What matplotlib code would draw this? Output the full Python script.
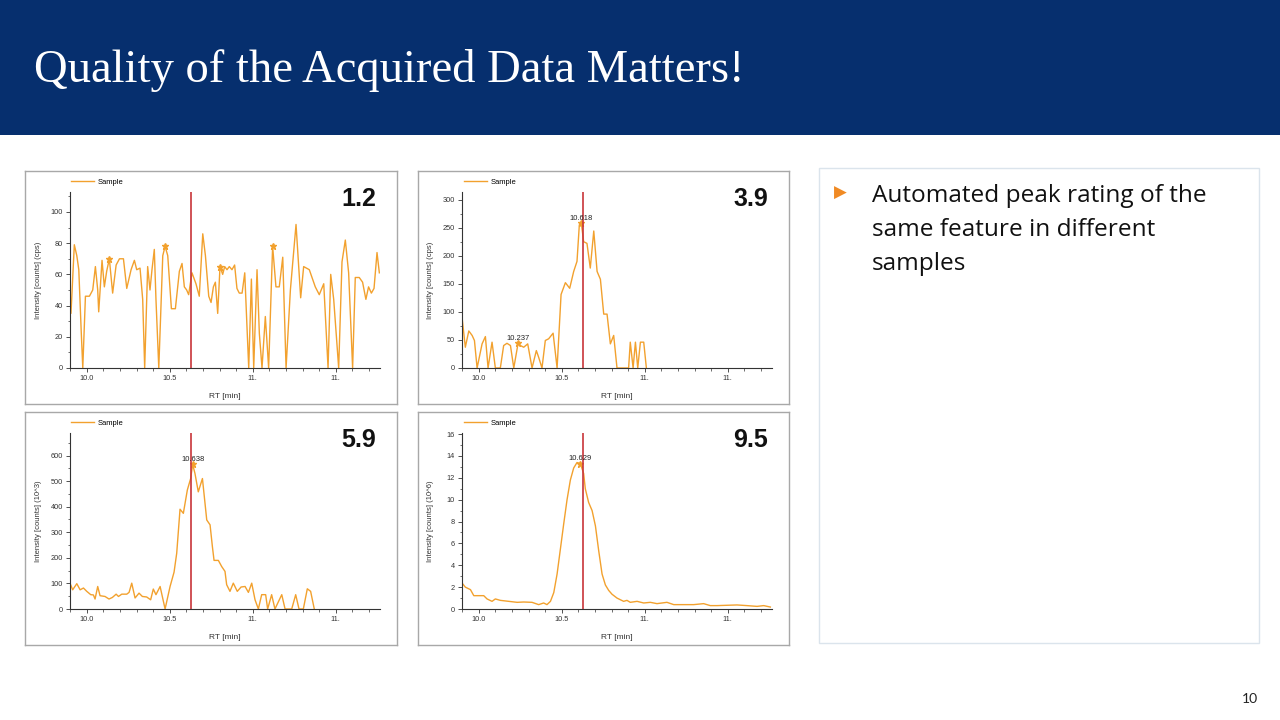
import matplotlib
matplotlib.use("Agg")
import matplotlib.pyplot as plt
from matplotlib.patches import Rectangle
from matplotlib.ticker import MultipleLocator

plt.rcParams['font.family'] = ['Liberation Sans', 'DejaVu Sans']

W, H = 1280, 720

rt1 = [9.895, 9.905, 9.925, 9.940, 9.952, 9.966, 9.976, 9.992, 10.016, 10.036, 10.052, 10.066, 10.072,
       10.092, 10.106, 10.120, 10.136, 10.156, 10.177, 10.197, 10.221, 10.241, 10.267, 10.287, 10.301,
       10.321, 10.337, 10.349, 10.367, 10.381, 10.393, 10.407, 10.417, 10.434, 10.458, 10.472, 10.488,
       10.510, 10.534, 10.558, 10.574, 10.588, 10.602, 10.614, 10.634, 10.658, 10.678, 10.699, 10.715,
       10.735, 10.749, 10.763, 10.775, 10.789, 10.803, 10.819, 10.831, 10.845, 10.859, 10.875, 10.891,
       10.905, 10.919, 10.936, 10.952, 10.966, 10.976, 10.992, 11.006, 11.026, 11.040, 11.056, 11.076,
       11.096, 11.120, 11.140, 11.160, 11.181, 11.201, 11.227, 11.261, 11.289, 11.307, 11.341, 11.377,
       11.401, 11.428, 11.454, 11.470, 11.488, 11.518, 11.538, 11.558, 11.578, 11.602, 11.618, 11.642,
       11.662, 11.682, 11.698, 11.715, 11.731, 11.749, 11.763]
int1 = [44, 35, 79, 72, 63, 25, 0, 46, 46, 50, 65, 50, 36,
        69, 52, 62, 70, 48, 66, 70, 70, 51, 63, 69, 63,
        64, 44, 0, 65, 50, 63, 76, 44, 0, 72, 78, 72,
        38, 38, 62, 67, 52, 50, 47, 61, 54, 46, 86, 72,
        46, 42, 52, 55, 35, 65, 60, 65, 63, 65, 63, 66,
        51, 48, 48, 61, 25, 0, 57, 0, 63, 22, 0, 33,
        0, 78, 52, 52, 71, 0, 50, 92, 45, 65, 63, 52,
        47, 54, 0, 60, 44, 0, 68, 82, 61, 0, 58, 58,
        55, 44, 52, 48, 51, 74, 61]
picos1_rt = [10.136, 10.472, 10.803, 11.120]
picos1_int = [70, 78, 65, 78]

rt2 = [9.899, 9.919, 9.940, 9.960, 9.974, 9.990, 10.020, 10.040, 10.056, 10.080, 10.100, 10.130,
       10.150, 10.170, 10.191, 10.211, 10.237, 10.251, 10.271, 10.295, 10.321, 10.347, 10.361, 10.381,
       10.401, 10.421, 10.448, 10.472, 10.496, 10.522, 10.548, 10.572, 10.592, 10.606, 10.618, 10.632,
       10.652, 10.672, 10.693, 10.713, 10.733, 10.753, 10.773, 10.793, 10.813, 10.833, 10.863, 10.903,
       10.913, 10.930, 10.944, 10.958, 10.974, 10.994, 11.010]
int2 = [91, 37, 66, 58, 49, 0, 43, 56, 0, 46, 0, 0,
        40, 44, 40, 0, 44, 40, 37, 43, 0, 31, 19, 0,
        49, 52, 62, 0, 131, 152, 142, 172, 190, 255, 258, 225,
        222, 178, 244, 172, 158, 96, 96, 43, 58, 0, 0, 0,
        46, 0, 46, 0, 46, 46, 0]
picos2_rt = [10.237, 10.618]
picos2_int = [44, 258]
picos2_txt = ['10.237', '10.618']

rt3 = [9.899, 9.915, 9.940, 9.960, 9.980, 10.000, 10.024, 10.040, 10.050, 10.066, 10.080, 10.110,
       10.134, 10.154, 10.177, 10.191, 10.211, 10.241, 10.255, 10.271, 10.291, 10.315, 10.335, 10.361,
       10.385, 10.401, 10.417, 10.442, 10.472, 10.502, 10.526, 10.542, 10.562, 10.582, 10.606, 10.626,
       10.638, 10.652, 10.672, 10.697, 10.723, 10.743, 10.757, 10.767, 10.793, 10.813, 10.833, 10.843,
       10.863, 10.883, 10.907, 10.930, 10.954, 10.974, 10.994, 11.014, 11.034, 11.054, 11.078, 11.090,
       11.114, 11.134, 11.175, 11.195, 11.235, 11.259, 11.279, 11.305, 11.329, 11.349, 11.371]
int3 = [101, 75, 99, 75, 82, 69, 56, 55, 39, 88, 52, 49,
        39, 45, 58, 49, 58, 58, 65, 101, 43, 62, 49, 47,
        36, 78, 56, 88, 0, 88, 144, 218, 390, 374, 465, 510,
        565, 530, 458, 510, 348, 329, 244, 190, 190, 166, 147, 95,
        69, 101, 69, 86, 88, 65, 101, 36, 0, 56, 56, 0,
        56, 0, 56, 0, 0, 56, 0, 0, 79, 69, 0]
picos3_rt = [10.638]
picos3_int = [565]
picos3_txt = ['10.638']

rt4 = [9.899, 9.919, 9.950, 9.970, 10.000, 10.030, 10.050, 10.080, 10.100, 10.130, 10.181, 10.231,
       10.271, 10.321, 10.361, 10.391, 10.411, 10.432, 10.452, 10.472, 10.492, 10.512, 10.532, 10.552,
       10.572, 10.592, 10.612, 10.632, 10.642, 10.662, 10.683, 10.703, 10.723, 10.743, 10.763, 10.783,
       10.803, 10.833, 10.873, 10.893, 10.913, 10.954, 10.994, 11.034, 11.074, 11.134, 11.175, 11.235,
       11.295, 11.355, 11.395, 11.436, 11.496, 11.556, 11.616, 11.677, 11.717, 11.757]
int4 = [2.38, 2.0, 1.77, 1.22, 1.22, 1.22, 0.92, 0.70, 0.92, 0.79, 0.70, 0.61,
        0.64, 0.61, 0.40, 0.55, 0.40, 0.70, 1.5, 3.2, 5.5, 7.8, 10.0, 11.8,
        12.9, 13.4, 13.3, 12.4, 11.0, 9.75, 9.0, 7.6, 5.3, 3.2, 2.2, 1.7,
        1.35, 1.0, 0.70, 0.79, 0.61, 0.70, 0.55, 0.61, 0.49, 0.61, 0.40, 0.40,
        0.40, 0.49, 0.31, 0.31, 0.34, 0.37, 0.31, 0.24, 0.31, 0.18]
picos4_rt = [10.612]
picos4_int = [13.3]
picos4_txt = ['10.629']

notas = ['1.2', '3.9', '5.9', '9.5']
rotulos_y = ['Intensity [counts] (cps)', 'Intensity [counts] (cps)',
             'Intensity [counts] (10^3)', 'Intensity [counts] (10^6)']
ticks_x = [10.0, 10.5, 11.0, 11.5]
ticks_x_txt = ['10.0', '10.5', '11.', '11.']
RT_ALVO = 10.63

LARANJA = '#F2A12E'
VERMELHO = '#C8353A'


def caixa(x0, y0, x1, y1):
    # pixels da imagem -> fração da figura
    return [x0 / W, 1 - y1 / H, (x1 - x0) / W, (y1 - y0) / H]


fig = plt.figure(figsize=(12.8, 7.2), dpi=100)
fig.patch.set_facecolor('white')

# Barra do título
fig.add_artist(Rectangle((0, 1 - 135 / H), 1, 135 / H, transform=fig.transFigure,
                         facecolor='#062F6E', edgecolor='none'))
fig.text(34 / W, 1 - 70 / H, 'Quality of the Acquired Data Matters!', color='white',
         fontsize=33.6, family='Liberation Serif', va='center', ha='left')


def painel(moldura, eixo, rt, inten, ymax, maj_y, min_y, nota, rotulo_y,
           picos_rt, picos_int, picos_txt=None):
    fr = fig.add_axes(caixa(*moldura))
    fr.set_xticks([])
    fr.set_yticks([])
    for s in fr.spines.values():
        s.set_color('#a8a8a8')
        s.set_linewidth(1)

    ax = fig.add_axes(caixa(*eixo))
    ax.patch.set_alpha(0)
    ax.plot(rt, inten, color=LARANJA, lw=1.0, label='Sample')
    ax.plot(picos_rt, picos_int, '*', color=LARANJA, ms=5)
    ax.axvline(RT_ALVO, color=VERMELHO, lw=1.2)
    if picos_txt:
        for x, y, t in zip(picos_rt, picos_int, picos_txt):
            ax.annotate(t, (x, y), xytext=(0, 1), textcoords='offset points',
                        ha='center', va='bottom', fontsize=5.5, color='#222222')

    ax.set_xlim(9.899, 11.767)
    ax.set_ylim(0, ymax)
    ax.set_xticks(ticks_x)
    ax.set_xticklabels(ticks_x_txt)
    ax.xaxis.set_minor_locator(MultipleLocator(0.1))
    ax.yaxis.set_major_locator(MultipleLocator(maj_y))
    ax.yaxis.set_minor_locator(MultipleLocator(min_y))
    for lado in ['top', 'right']:
        ax.spines[lado].set_visible(False)
    for lado in ['left', 'bottom']:
        ax.spines[lado].set_color('#333333')
        ax.spines[lado].set_linewidth(0.8)
    ax.tick_params(which='major', length=3, width=0.6, labelsize=5.3, colors='#333333', pad=2)
    ax.tick_params(which='minor', length=1.8, width=0.5, colors='#333333')

    ax.set_xlabel('RT [min]', fontsize=6, color='#333333')
    ax.xaxis.set_label_coords(0.5, -0.14)
    ax.set_ylabel(rotulo_y, fontsize=5.5, color='#333333')
    ax.yaxis.set_label_coords(-0.09, 0.5)

    ax.legend(loc='center left', bbox_to_anchor=((moldura[0] + 46) / W, 1 - (moldura[1] + 11) / H),
              bbox_transform=fig.transFigure, frameon=False, fontsize=5.5,
              handlelength=3, handletextpad=0.5, borderpad=0, borderaxespad=0)

    fig.text((moldura[2] - 21) / W, 1 - (moldura[1] + 28) / H, nota, ha='right', va='center',
             fontsize=18, fontweight='bold', color='#111111')


painel((25, 171, 397, 404), (70, 192, 380, 368), rt1, int1, 112.8, 20, 10,
       notas[0], rotulos_y[0], picos1_rt, picos1_int)
painel((418, 171, 789, 404), (462, 192, 772, 368), rt2, int2, 313.5, 50, 25,
       notas[1], rotulos_y[1], picos2_rt, picos2_int, picos2_txt)
painel((25, 412, 397, 645), (70, 433, 380, 609), rt3, int3, 688, 100, 50,
       notas[2], rotulos_y[2], picos3_rt, picos3_int, picos3_txt)
painel((418, 412, 789, 645), (462, 433, 772, 609), rt4, int4, 16.1, 2, 1,
       notas[3], rotulos_y[3], picos4_rt, picos4_int, picos4_txt)

# Caixa de texto à direita
fig.add_artist(Rectangle((819 / W, 1 - 643 / H), 440 / W, 475 / H, transform=fig.transFigure,
                         facecolor='white', edgecolor='#dbe4ec', lw=1))
fig.text(834 / W, 1 - 193 / H, '\u25b6', color='#F08A24', fontsize=12,
         family='DejaVu Sans', va='center', ha='left')
linhas = ['Automated peak rating of the', 'same feature in different', 'samples']
for i, linha in enumerate(linhas):
    fig.text(872 / W, 1 - (202 + 34 * i) / H, linha, fontsize=17.6, family='Open Sans',
             color='#111111', va='baseline', ha='left')

fig.text(1250 / W, 1 - 703 / H, '10', fontsize=10, family='Lato', color='#222222',
         ha='center', va='baseline')

fig.savefig('out.png', dpi=100)
